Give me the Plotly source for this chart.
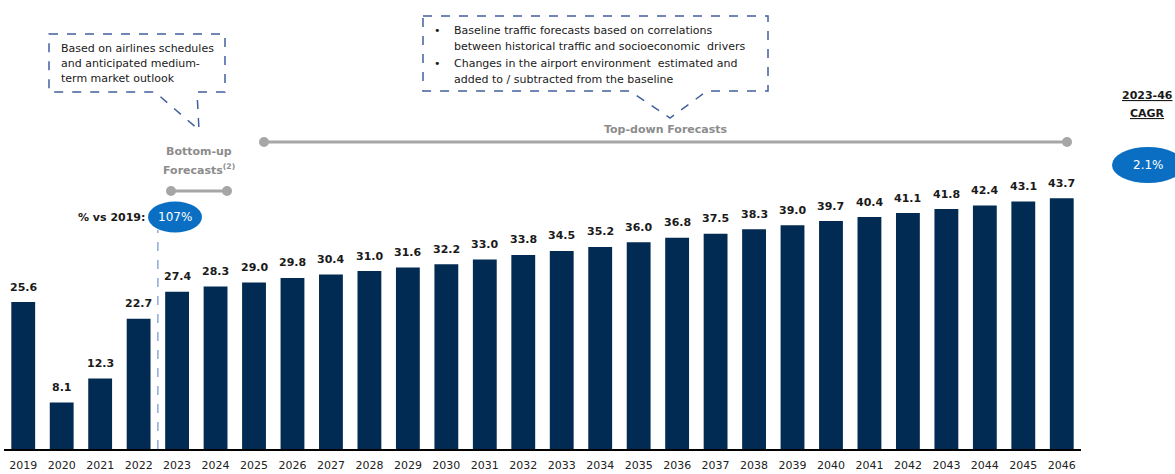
import plotly.graph_objects as go

years = [str(y) for y in range(2019, 2047)]
passengers = [25.6, 8.1, 12.3, 22.7, 27.4, 28.3, 29.0, 29.8, 30.4, 31.0, 31.6, 32.2, 33.0, 33.8,
              34.5, 35.2, 36.0, 36.8, 37.5, 38.3, 39.0, 39.7, 40.4, 41.1, 41.8, 42.4, 43.1, 43.7]
recovery_label = "107%"
cagr_label = "2.1%"

NAVY = "#012b52"
BLUE = "#0a6fc2"
GREY = "#a6a6a6"
GREY_TXT = "#8c8c8c"
BOX = "#42609e"
FONT = "DejaVu Sans"

W, H = 1175, 474
ML, MR, MT, MB = 4, 94, 10, 25
PW, PH = W - ML - MR, H - MT - MB


def px(x):
    return (x - ML) / PW


def py(y):
    return (H - MB - y) / PH


fig = go.Figure()
fig.add_trace(go.Bar(x=years, y=passengers, marker_color=NAVY, marker_line_width=0,
                     width=0.62, hoverinfo="x+y"))

# value labels over bars (category axis -> use index so "2019" isn't read as a serial number)
for i, v in enumerate(passengers):
    fig.add_annotation(x=i, y=v, text=f"<b>{v:.1f}</b>", showarrow=False, xanchor="center",
                       yanchor="middle", yshift=15, font=dict(family=FONT, size=11, color="#1a1a1a"))

shapes = []
annos = []

# divider between actuals and forecasts
shapes.append(dict(type="line", xref="x", yref="paper", x0=3.5, x1=3.5, y0=0, y1=py(230),
                   line=dict(color="#8eaadb", width=1.5, dash="dash")))


def seg(x0, x1, y):
    shapes.append(dict(type="line", xref="paper", yref="paper", x0=px(x0), x1=px(x1), y0=py(y), y1=py(y),
                       line=dict(color=GREY, width=3)))
    for xx in (x0, x1):
        shapes.append(dict(type="circle", xref="paper", yref="paper", xsizemode="pixel", ysizemode="pixel",
                           xanchor=px(xx), yanchor=py(y), x0=-5, x1=5, y0=-5, y1=5,
                           fillcolor=GREY, line=dict(width=0)))


def text(x, y, t, size=11, color="#1a1a1a", xanchor="center"):
    annos.append(dict(x=px(x), y=py(y), xref="paper", yref="paper", text=t, showarrow=False,
                      xanchor=xanchor, yanchor="middle", align="left" if xanchor == "left" else "center",
                      font=dict(family=FONT, size=size, color=color)))


def pill(cx, cy, w, h, label):
    shapes.append(dict(type="circle", xref="paper", yref="paper", xsizemode="pixel", ysizemode="pixel",
                       xanchor=px(cx), yanchor=py(cy), x0=-w / 2, x1=w / 2, y0=-h / 2, y1=h / 2,
                       fillcolor=BLUE, line=dict(width=0)))
    text(cx, cy, label, size=12, color="white")


def callout(x0, y0, x1, y1, b0, tip, b1):
    pts = [(x0, y0), (x1, y0), (x1, y1), (b1, y1), tip, (b0, y1), (x0, y1)]
    path = "M " + " L ".join(f"{px(a):.5f},{py(b):.5f}" for a, b in pts) + " Z"
    shapes.append(dict(type="path", xref="paper", yref="paper", path=path,
                       line=dict(color=BOX, width=1.5, dash="dash"), fillcolor="rgba(0,0,0,0)"))


# bottom-up bracket
seg(171, 227, 191)
text(199, 151, "<b>Bottom-up</b>", color=GREY_TXT)
text(199, 169, "<b>Forecasts<sup>(2)</sup></b>", color=GREY_TXT)
callout(49, 34, 225, 92, 155, (199, 130), 197)
text(59, 48, "Based on airlines schedules", xanchor="left")
text(59, 64, "and anticipated medium-", xanchor="left")
text(59, 79, "term market outlook", xanchor="left")

# top-down bracket
seg(264, 1067, 142)
text(666, 130, "<b>Top-down Forecasts</b>", color=GREY_TXT)
callout(423, 16, 768, 91, 630, (670, 118), 707)
for yy, t in [(31, "Baseline traffic forecasts based on correlations"),
              (46, "between historical traffic and socioeconomic  drivers"),
              (64, "Changes in the airport environment  estimated and"),
              (80, "added to / subtracted from the baseline")]:
    text(452, yy, t, xanchor="left")
text(432, 31, "•", xanchor="left")
text(432, 64, "•", xanchor="left")

# recovery pill
text(147, 217, "<b>% vs 2019:</b>", xanchor="right")
pill(175, 217, 54, 31, recovery_label)

# CAGR
text(1147, 95, "<b><u>2023-46</u></b>")
text(1147, 113, "<b><u>CAGR</u></b>")
pill(1148, 165, 72, 36, cagr_label)

fig.update_layout(
    width=W, height=H,
    margin=dict(l=ML, r=MR, t=MT, b=MB),
    plot_bgcolor="white", paper_bgcolor="white",
    showlegend=False,
    shapes=shapes,
    font=dict(family=FONT, size=11, color="#1a1a1a"),
)
for a in annos:
    fig.add_annotation(**a)
fig.update_xaxes(type="category", range=[-0.5, 27.5], showline=True, linecolor="black", linewidth=1.5,
                 showgrid=False, ticks="", ticklabelstandoff=5, automargin=False,
                 tickfont=dict(family=FONT, size=11, color="#222"))
fig.update_yaxes(range=[0, PH / 5.74], visible=False, showgrid=False, automargin=False)

fig.write_html("out.html", config={"displayModeBar": False},
               post_script="document.body.style.margin='0';")
